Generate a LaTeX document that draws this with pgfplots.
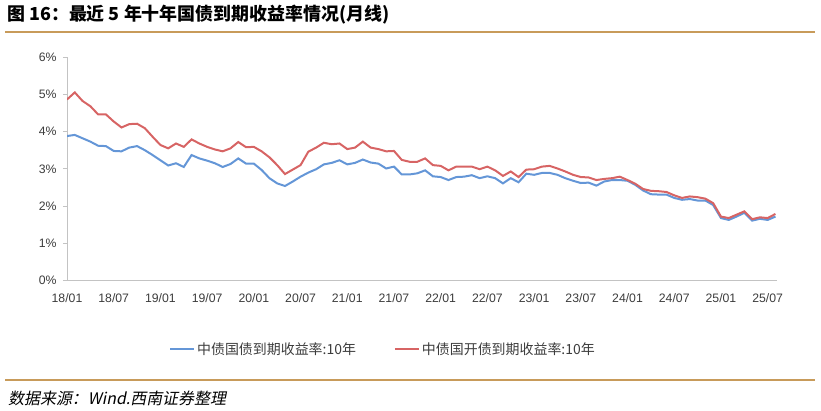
\documentclass[border=0pt]{standalone}
\usepackage{fontspec}
\setmainfont{Liberation Sans}
\newfontfamily\cjk{Noto Sans CJK SC}
\newfontfamily\cjkit[FakeSlant=0.2]{Noto Sans CJK SC}
\usepackage{pgfplots}
\usepackage{pgfplotstable}
\pgfplotsset{compat=1.18}
\definecolor{gold}{RGB}{200,155,90}
\definecolor{bl}{RGB}{100,150,215}
\definecolor{rd}{RGB}{215,100,100}
\definecolor{axgray}{RGB}{195,195,195}
\definecolor{txt}{RGB}{60,60,60}

\pgfplotstableread{
m b r
0 3.88 4.86
1 3.91 5.05
2 3.82 4.82
3 3.73 4.68
4 3.62 4.46
5 3.61 4.46
6 3.48 4.27
7 3.47 4.11
8 3.57 4.20
9 3.61 4.21
10 3.50 4.09
11 3.37 3.86
12 3.23 3.64
13 3.09 3.55
14 3.15 3.68
15 3.05 3.59
16 3.37 3.79
17 3.28 3.68
18 3.22 3.59
19 3.15 3.52
20 3.05 3.47
21 3.13 3.55
22 3.28 3.72
23 3.14 3.58
24 3.14 3.59
25 2.97 3.47
26 2.75 3.31
27 2.61 3.10
28 2.54 2.86
29 2.66 2.98
30 2.79 3.10
31 2.90 3.46
32 2.99 3.57
33 3.12 3.70
34 3.16 3.66
35 3.23 3.68
36 3.12 3.53
37 3.16 3.57
38 3.25 3.73
39 3.17 3.57
40 3.14 3.53
41 3.01 3.47
42 3.06 3.48
43 2.85 3.24
44 2.85 3.19
45 2.88 3.19
46 2.96 3.28
47 2.80 3.10
48 2.78 3.08
49 2.70 2.96
50 2.78 3.06
51 2.79 3.06
52 2.83 3.06
53 2.75 2.99
54 2.80 3.06
55 2.75 2.96
56 2.61 2.81
57 2.75 2.93
58 2.64 2.78
59 2.87 2.98
60 2.84 2.99
61 2.89 3.06
62 2.89 3.08
63 2.84 3.01
64 2.75 2.93
65 2.68 2.84
66 2.62 2.78
67 2.63 2.77
68 2.55 2.70
69 2.66 2.73
70 2.70 2.75
71 2.70 2.79
72 2.68 2.70
73 2.57 2.60
74 2.42 2.46
75 2.32 2.41
76 2.31 2.40
77 2.31 2.38
78 2.22 2.29
79 2.17 2.22
80 2.19 2.26
81 2.15 2.24
82 2.15 2.20
83 2.03 2.08
84 1.68 1.72
85 1.63 1.68
86 1.72 1.77
87 1.82 1.86
88 1.61 1.65
89 1.66 1.70
90 1.63 1.68
91 1.72 1.79
}\datatable

\begin{document}
\begin{tikzpicture}
\useasboundingbox (0,0) rectangle (821bp,411bp);
\node[anchor=west,inner sep=0] at (7bp,396bp) {\cjk\bfseries\fontsize{18}{20}\selectfont 图 16：最近 5 年十年国债到期收益率情况(月线)};
\draw[gold,line width=1.8bp] (5bp,379.3bp) -- (815bp,379.3bp);
\draw[gold,line width=1.8bp] (5bp,31bp) -- (815bp,31bp);
\node[anchor=west,inner sep=0] at (8bp,13bp) {\cjkit\fontsize{16}{18}\selectfont 数据来源：Wind.西南证券整理};
\begin{axis}[
  at={(67bp,130.3bp)}, anchor=south west,
  width=710bp, height=223.7bp, scale only axis,
  xmin=0, xmax=91.2, ymin=0, ymax=6,
  axis x line=bottom, axis y line=left,
  axis line style={-, axgray, line width=0.8bp},
  xtick={0,6,...,90},
  xticklabels={18/01,18/07,19/01,19/07,20/01,20/07,21/01,21/07,22/01,22/07,23/01,23/07,24/01,24/07,25/01,25/07},
  ytick={0,1,2,3,4,5,6},
  yticklabels={0\%,1\%,2\%,3\%,4\%,5\%,6\%},
  x tick style={draw=none},
  y tick style={axgray, line width=0.8bp},
  tick align=outside, major tick length=4bp,
  ticklabel style={font=\fontsize{12.3}{14}\selectfont, text=txt},
  yticklabel style={xshift=-3bp},
  xticklabel style={yshift=-5bp},
  legend columns=2,
  legend style={at={(0.445,-0.305)}, anchor=center, draw=none, fill=none,
    font=\cjk\fontsize{14}{16}\selectfont, text=txt,
    /tikz/every even column/.append style={column sep=36bp}},
  legend image code/.code={\draw[#1] (0bp,0bp) -- (24bp,0bp);},
]
\addplot[bl, line width=2bp] table[x=m,y=b]{\datatable};
\addlegendentry{中债国债到期收益率:10年}
\addplot[rd, line width=2bp] table[x=m,y=r]{\datatable};
\addlegendentry{中债国开债到期收益率:10年}
\end{axis}
\end{tikzpicture}
\end{document}
